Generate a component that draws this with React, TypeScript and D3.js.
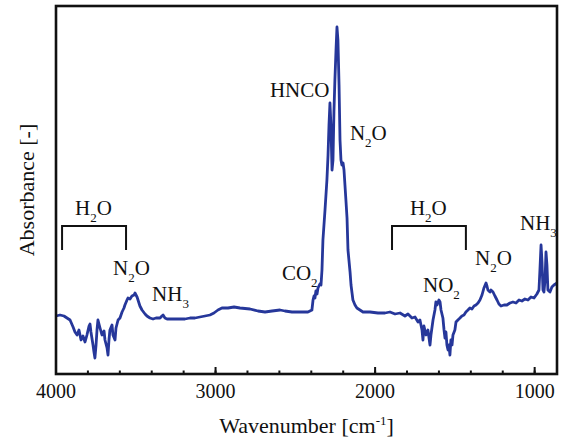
import React from "react";
import * as d3 from "d3";

// Spectrum data (wavenumber in cm-1, absorbance a.u.)
const wavenumber = [
  4000, 3975, 3950, 3931, 3912, 3893, 3881, 3868, 3856, 3843, 3831, 3818, 3806, 3793, 3787, 3781,
  3768, 3762, 3756, 3749, 3743, 3737, 3724, 3712, 3699, 3693, 3680, 3674, 3668, 3662, 3649, 3643,
  3630, 3624, 3611, 3599, 3586, 3574, 3568, 3555, 3549, 3536, 3524, 3511, 3505, 3492, 3486, 3474,
  3461, 3442, 3430, 3411, 3392, 3373, 3348, 3336, 3329, 3317, 3304, 3273, 3235, 3192, 3160, 3129,
  3098, 3066, 3035, 3010, 2985, 2960, 2922, 2884, 2847, 2784, 2734, 2690, 2646, 2596, 2565, 2521,
  2471, 2421, 2396, 2389, 2383, 2377, 2371, 2364, 2358, 2346, 2339, 2333, 2327, 2314, 2302, 2295,
  2289, 2283, 2277, 2270, 2264, 2258, 2252, 2245, 2239, 2233, 2226, 2220, 2214, 2208, 2201, 2195,
  2189, 2183, 2176, 2170, 2157, 2151, 2139, 2126, 2114, 2095, 2076, 2032, 1982, 1938, 1907, 1875,
  1844, 1813, 1794, 1769, 1750, 1731, 1719, 1706, 1700, 1694, 1681, 1669, 1656, 1650, 1637, 1625,
  1619, 1612, 1600, 1593, 1587, 1575, 1568, 1562, 1556, 1550, 1543, 1537, 1531, 1525, 1518, 1512,
  1500, 1493, 1481, 1468, 1456, 1443, 1431, 1418, 1406, 1393, 1380, 1368, 1355, 1343, 1330, 1318,
  1305, 1299, 1293, 1280, 1274, 1261, 1249, 1236, 1224, 1211, 1192, 1174, 1155, 1136, 1117, 1098,
  1080, 1061, 1042, 1023, 1004, 986, 973, 967, 960, 954, 948, 942, 935, 929, 923, 917,
  904, 892, 879, 860,
];
const absorbance = [
  0.058, 0.059, 0.058, 0.056, 0.054, 0.047, 0.042, 0.039, 0.044, 0.034, 0.038, 0.032, 0.039, 0.048, 0.05, 0.042,
  0.029, 0.022, 0.016, 0.029, 0.044, 0.054, 0.046, 0.039, 0.043, 0.034, 0.026, 0.019, 0.034, 0.044, 0.049, 0.039,
  0.034, 0.046, 0.054, 0.056, 0.062, 0.066, 0.069, 0.074, 0.076, 0.075, 0.078, 0.079, 0.081, 0.077, 0.074, 0.068,
  0.064, 0.06, 0.058, 0.056, 0.055, 0.056, 0.056, 0.058, 0.059, 0.056, 0.055, 0.055, 0.055, 0.055, 0.056, 0.056,
  0.057, 0.058, 0.059, 0.061, 0.064, 0.066, 0.066, 0.067, 0.066, 0.065, 0.063, 0.062, 0.063, 0.064, 0.063, 0.062,
  0.062, 0.062, 0.064, 0.074, 0.078, 0.076, 0.083, 0.08, 0.086, 0.09, 0.089, 0.104, 0.134, 0.164, 0.194, 0.219,
  0.249, 0.271, 0.249, 0.204, 0.214, 0.262, 0.294, 0.324, 0.347, 0.334, 0.289, 0.234, 0.214, 0.209, 0.211, 0.204,
  0.189, 0.174, 0.156, 0.124, 0.102, 0.089, 0.074, 0.069, 0.066, 0.064, 0.062, 0.062, 0.061, 0.061, 0.062, 0.06,
  0.061, 0.058, 0.06, 0.056, 0.057, 0.052, 0.054, 0.044, 0.034, 0.048, 0.039, 0.044, 0.029, 0.039, 0.054, 0.064,
  0.072, 0.069, 0.074, 0.072, 0.064, 0.056, 0.044, 0.036, 0.042, 0.029, 0.024, 0.029, 0.019, 0.034, 0.029, 0.039,
  0.044, 0.052, 0.054, 0.056, 0.058, 0.059, 0.062, 0.064, 0.066, 0.065, 0.068, 0.069, 0.071, 0.074, 0.079, 0.086,
  0.091, 0.088, 0.084, 0.082, 0.084, 0.082, 0.078, 0.074, 0.07, 0.068, 0.069, 0.069, 0.071, 0.072, 0.071, 0.074,
  0.073, 0.075, 0.074, 0.077, 0.076, 0.08, 0.084, 0.104, 0.129, 0.112, 0.084, 0.082, 0.094, 0.122, 0.109, 0.084,
  0.082, 0.087, 0.089, 0.091,
];

// Annotation labels: base text, subscript, trailing text, anchor (wavenumber, absorbance)
const labelBase = ["H", "N", "NH", "CO", "HNCO", "N", "H", "NO", "N", "NH"];
const labelSub = ["2", "2", "3", "2", "", "2", "2", "2", "2", "3"];
const labelTail = ["O", "O", "", "", "", "O", "O", "", "O", ""];
const labelWn = [3881, 3643, 3398, 2584, 2659, 2158, 1782, 1700, 1374, 1092];
const labelAbs = [0.159, 0.099, 0.073, 0.094, 0.277, 0.234, 0.159, 0.082, 0.109, 0.144];

// Brackets for H2O bands: [start wn, end wn]
const bracketStart = [3962, 1894];
const bracketEnd = [3561, 1431];
const bracketTop = 0.148;
const bracketBottom = 0.124;

const xTicksMajor = [4000, 3000, 2000, 1000];
const xTicksMinor = d3.range(3800, 860, -200);

const W = 566;
const H = 443;
const left = 56;
const right = 557;
const top = 6;
const bottom = 374;

export default function App() {
  const x = d3.scaleLinear().domain([4000, 860]).range([left, right]);
  const y = d3.scaleLinear().domain([0, 0.368]).range([bottom, top]);
  const pts: [number, number][] = wavenumber.map((w, i) => [w, absorbance[i]]);
  const line = d3
    .line<[number, number]>()
    .x((d) => x(d[0]))
    .y((d) => y(d[1]));

  const font = "'Liberation Serif', 'Times New Roman', serif";
  const color = "#26379a";

  return (
    <svg
      width={W}
      height={H}
      style={{ position: "absolute", left: 0, top: 0, background: "#fff" }}
      fontFamily={font}
    >
      <path d={line(pts) || ""} fill="none" stroke={color} strokeWidth={2.8} strokeLinejoin="round" />

      {/* frame */}
      <rect x={left} y={top} width={right - left} height={bottom - top} fill="none" stroke="#111" strokeWidth={2.6} />

      {/* ticks */}
      {xTicksMinor.map((t) => (
        <line key={"m" + t} x1={x(t)} x2={x(t)} y1={bottom} y2={bottom - 3.5} stroke="#111" strokeWidth={2} />
      ))}
      {xTicksMajor.map((t) => (
        <line key={"M" + t} x1={x(t)} x2={x(t)} y1={bottom} y2={bottom - 7} stroke="#111" strokeWidth={2} />
      ))}
      {xTicksMajor.map((t) => (
        <text key={"l" + t} x={x(t)} y={398} fontSize={20} textAnchor="middle" fill="#111">
          {t}
        </text>
      ))}

      {/* axis titles */}
      <text x={(left + right) / 2} y={433} fontSize={22} textAnchor="middle" fill="#111">
        Wavenumber [cm
        <tspan dy={-8} fontSize={13}>-1</tspan>
        <tspan dy={8} fontSize={22}>]</tspan>
      </text>
      <text
        transform={`translate(34, ${(top + bottom) / 2}) rotate(-90)`}
        fontSize={22}
        textAnchor="middle"
        fill="#111"
      >
        Absorbance [-]
      </text>

      {/* brackets */}
      {bracketStart.map((b, i) => (
        <path
          key={"b" + i}
          d={`M${x(b)},${y(bracketBottom)}V${y(bracketTop)}H${x(bracketEnd[i])}V${y(bracketBottom)}`}
          fill="none"
          stroke="#111"
          strokeWidth={2}
        />
      ))}

      {/* labels */}
      {labelBase.map((b, i) => (
        <text key={"t" + i} x={x(labelWn[i])} y={y(labelAbs[i])} fontSize={21} fill="#111">
          {b}
          {labelSub[i] && (
            <tspan dy={7} fontSize={13}>
              {labelSub[i]}
            </tspan>
          )}
          {labelTail[i] && (
            <tspan dy={-7} fontSize={21}>
              {labelTail[i]}
            </tspan>
          )}
        </text>
      ))}
    </svg>
  );
}
